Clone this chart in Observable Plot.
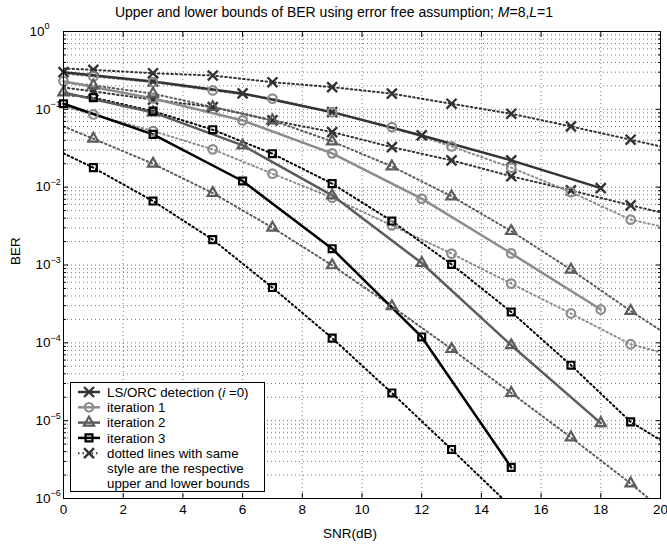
<!DOCTYPE html>
<html><head><meta charset="utf-8">
<script src="https://cdn.jsdelivr.net/npm/d3@7"></script>
<script src="https://cdn.jsdelivr.net/npm/@observablehq/plot@0.6"></script>
<style>
body{margin:0;background:#fff;}
#wrap{position:relative;width:667px;height:548px;font-family:"Liberation Sans",Arial,sans-serif;}
#title{position:absolute;top:5px;left:334px;transform:translateX(-50%);white-space:nowrap;font-size:14px;line-height:15px;color:#000;}
#wrap svg{position:absolute;left:0;top:0;}
</style></head><body>
<div id="wrap"><div id="title">Upper and lower bounds of BER using error free assumption; <i>M</i>=8,<i>L</i>=1</div></div>
<script>
// ---- data ----
const snrSolid = [0, 3, 6, 9, 12, 15, 18];
const berLS    = [0.300, 0.228, 0.160, 0.0920, 0.0462, 0.0221, 0.00973];
const berIter1 = [0.230, 0.138, 0.0720, 0.0272, 0.00712, 0.00141, 2.68e-4];
const berIter2 = [0.165, 0.0912, 0.0344, 0.00785, 0.00106, 9.31e-5, 9.29e-6];
const berIter3 = [0.118, 0.0476, 0.0120, 0.00162, 1.19e-4, 2.51e-6];

const snrBound   = [0, 1, 3, 5, 7, 9, 11, 13, 15, 17, 19, 20];
const upperLS    = [0.335, 0.322, 0.291, 0.272, 0.223, 0.193, 0.159, 0.118, 0.0878, 0.0603, 0.0407, 0.0334];
const lowerLS    = [0.191, 0.170, 0.133, 0.107, 0.0720, 0.0510, 0.0327, 0.0221, 0.0138, 0.00910, 0.00584, 0.00475];
const upperIter1 = [0.289, 0.264, 0.223, 0.175, 0.137, 0.0920, 0.0591, 0.0334, 0.0178, 0.00865, 0.00383, 0.00314];
const lowerIter1 = [0.109, 0.0860, 0.0525, 0.0306, 0.0149, 0.00733, 0.00323, 0.00140, 5.77e-4, 2.38e-4, 9.59e-5, 7.57e-5];
const upperIter2 = [0.221, 0.203, 0.159, 0.107, 0.0720, 0.0387, 0.0185, 0.00762, 0.00273, 8.73e-4, 2.57e-4, 1.45e-4];
const lowerIter2 = [0.0603, 0.0419, 0.0200, 0.00840, 0.00302, 9.91e-4, 2.95e-4, 8.32e-5, 2.27e-5, 6.09e-6, 1.56e-6, 7.5e-7];
const upperIter3 = [0.155, 0.141, 0.0948, 0.0547, 0.0269, 0.0111, 0.00367, 0.00102, 2.49e-4, 5.16e-5, 9.66e-6, 5.62e-6];
const lowerIter3 = [0.0272, 0.0178, 0.00663, 0.00212, 5.13e-4, 1.15e-4, 2.27e-5, 4.27e-6, 7.8e-7];

const seriesNames = ["LS/ORC detection", "iteration 1", "iteration 2", "iteration 3"];
const xTicks = [0, 2, 4, 6, 8, 10, 12, 14, 16, 18, 20];
const yExps = [0, -1, -2, -3, -4, -5, -6];

// ---- styles ----
const styles = [
  {color: "#333333", symbol: "times",    r: 4.6, sw: 2.4},
  {color: "#8c8c8c", symbol: "circle",   r: 4.3, sw: 2.2},
  {color: "#5c5c5c", symbol: "triangle", r: 3.8, sw: 2.2},
  {color: "#000000", symbol: "square",   r: 3.9, sw: 2.2}
];
const solids = [berLS, berIter1, berIter2, berIter3];
const uppers = [upperLS, upperIter1, upperIter2, upperIter3];
const lowers = [lowerLS, lowerIter1, lowerIter2, lowerIter3];

const solidRows = [], boundRows = [];
seriesNames.forEach((name, i) => {
  solids[i].forEach((b, j) => solidRows.push({s: name, snr: snrSolid[j], ber: b}));
  uppers[i].forEach((b, j) => boundRows.push({s: name, k: name + " upper", snr: snrBound[j], ber: b}));
  lowers[i].forEach((b, j) => boundRows.push({s: name, k: name + " lower", snr: snrBound[j], ber: b}));
});
const boundMarks = boundRows.filter(d => d.snr % 2 === 1 && d.ber >= 1e-6);

const yMajor = yExps.map(e => Math.pow(10, e));
const yMinor = [];
for (let e = -6; e < 0; e++) for (let m = 2; m <= 9; m++) yMinor.push(m * Math.pow(10, e));

const colorScale = {domain: seriesNames, range: styles.map(s => s.color)};
const FONT = "Liberation Sans, Arial, sans-serif";

const markerMarks = [];
seriesNames.forEach((name, i) => {
  const st = styles[i];
  const opts = {x: "snr", y: "ber", symbol: st.symbol, r: st.r, stroke: st.color, strokeWidth: st.sw, fill: "none"};
  markerMarks.push(Plot.dot(boundMarks.filter(d => d.s === name), opts));
  markerMarks.push(Plot.dot(solidRows.filter(d => d.s === name), opts));
});

const chart = Plot.plot({
  width: 667, height: 548,
  marginLeft: 63, marginRight: 7, marginTop: 31, marginBottom: 50,
  style: {fontFamily: FONT, fontSize: "13px", background: "transparent", color: "#000"},
  x: {domain: [0, 20]},
  y: {type: "log", domain: [1e-6, 1]},
  color: colorScale,
  marks: [
    Plot.ruleY(yMinor, {y: d => d, stroke: "#777", strokeWidth: 1, strokeDasharray: "1,3"}),
    Plot.ruleY(yMajor.slice(1, -1), {y: d => d, stroke: "#777", strokeWidth: 1, strokeDasharray: "1,3"}),
    Plot.ruleX(xTicks.slice(1, -1), {x: d => d, stroke: "#777", strokeWidth: 1, strokeDasharray: "1,3"}),
    Plot.line(boundRows, {x: "snr", y: "ber", z: "k", stroke: "s", strokeWidth: 2, strokeDasharray: "1.5,3", clip: true}),
    Plot.line(solidRows, {x: "snr", y: "ber", z: "s", stroke: "s", strokeWidth: 2.5}),
    ...markerMarks,
    Plot.frame({stroke: "#000", strokeWidth: 1}),
    Plot.axisX(xTicks, {anchor: "bottom", tickSize: 0, tickPadding: 6, fontSize: 13.5, label: null}),
    Plot.axisX(xTicks, {anchor: "bottom", tickSize: -5, tickFormat: () => "", label: null}),
    Plot.axisX(xTicks, {anchor: "top", tickSize: -5, tickFormat: () => "", label: null}),
    Plot.axisY(yMajor, {anchor: "left", tickSize: -5, tickFormat: () => "", label: null}),
    Plot.axisY(yMinor, {anchor: "left", tickSize: -3, tickFormat: () => "", label: null}),
    Plot.axisY(yMajor, {anchor: "right", tickSize: -5, tickFormat: () => "", label: null}),
    Plot.axisY(yMinor, {anchor: "right", tickSize: -3, tickFormat: () => "", label: null}),
    // y tick labels 10^k
    Plot.text(yExps.filter(e => e < 0), {x: () => 0, y: e => Math.pow(10, e), text: () => "10", textAnchor: "start", dx: -28, fontSize: 13.5}),
    Plot.text(yExps.filter(e => e < 0), {x: () => 0, y: e => Math.pow(10, e), text: e => "\u2212" + (-e), textAnchor: "start", dx: -13, dy: -5, fontSize: 9}),
    Plot.text(yExps.filter(e => e === 0), {x: () => 0, y: e => Math.pow(10, e), text: () => "10", textAnchor: "start", dx: -34, fontSize: 13.5}),
    Plot.text(yExps.filter(e => e === 0), {x: () => 0, y: e => Math.pow(10, e), text: e => String(e), textAnchor: "start", dx: -19, dy: -5, fontSize: 9}),
    Plot.text(["BER"], {frameAnchor: "left", text: d => d, rotate: -90, dx: -48, fontSize: 13.5}),
    Plot.text(["SNR(dB)"], {frameAnchor: "bottom", text: d => d, dx: -12, dy: 39, fontSize: 13.5})
  ]
});
document.getElementById("wrap").appendChild(chart);

// ---- legend ----
const svg = d3.select(chart);
const lg = svg.append("g").attr("font-family", FONT).attr("font-size", 13.3).attr("text-anchor", "start");
lg.append("rect").attr("x", 70.5).attr("y", 382.5).attr("width", 194).attr("height", 109)
  .attr("fill", "white").attr("stroke", "black").attr("stroke-width", 1);
const rowsY = [392, 407.3, 422.6, 437.9, 453.2];
const symbolMap = {times: d3.symbolTimes, circle: d3.symbolCircle, triangle: d3.symbolTriangle, square: d3.symbolSquare};
function legendSample(y, st, dashed) {
  lg.append("line").attr("x1", 78).attr("x2", 100).attr("y1", y).attr("y2", y)
    .attr("stroke", st.color).attr("stroke-width", dashed ? 2 : 2.5)
    .attr("stroke-dasharray", dashed ? "1.5,3" : null);
  lg.append("path").attr("transform", `translate(89,${y})`)
    .attr("d", d3.symbol(symbolMap[st.symbol], st.r * st.r * Math.PI)())
    .attr("fill", "none").attr("stroke", st.color).attr("stroke-width", st.sw);
}
styles.forEach((st, i) => legendSample(rowsY[i], st, false));
legendSample(rowsY[4], styles[0], true);
const t0 = lg.append("text").attr("x", 107).attr("y", rowsY[0]).attr("dy", "0.35em").attr("text-anchor", "start");
t0.append("tspan").text("LS/ORC detection (");
t0.append("tspan").attr("font-style", "italic").text("i");
t0.append("tspan").text(" =0)");
["iteration 1", "iteration 2", "iteration 3"].forEach((t, i) =>
  lg.append("text").attr("x", 107).attr("y", rowsY[i + 1]).attr("dy", "0.35em").attr("text-anchor", "start").text(t));
["dotted lines with same", "style are the respective", "upper and lower bounds"].forEach((t, i) =>
  lg.append("text").attr("x", 107).attr("y", rowsY[4] + i * 15.3).attr("dy", "0.35em").attr("text-anchor", "start").text(t));
</script>
</body></html>
